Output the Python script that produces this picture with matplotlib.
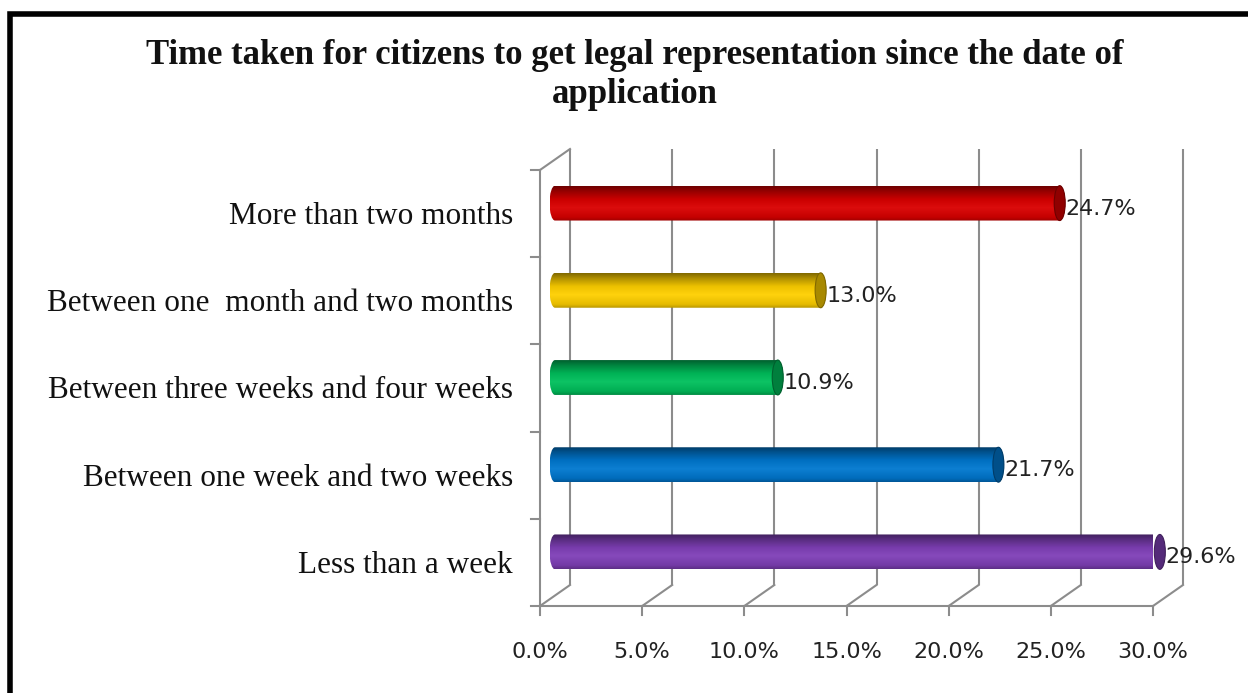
import numpy as np
import matplotlib
matplotlib.use("Agg")
import matplotlib.pyplot as plt
from matplotlib.path import Path
from matplotlib.patches import PathPatch, Ellipse, Rectangle
from matplotlib.transforms import ScaledTranslation
from matplotlib.colors import LinearSegmentedColormap, to_rgb

# ---- data -------------------------------------------------------------
categories = [
    "Less than a week",
    "Between one week and two weeks",
    "Between three weeks and four weeks",
    "Between one  month and two months",
    "More than two months",
]
values = [29.6, 21.7, 10.9, 13.0, 24.7]
bar_colors = ["#8040B8", "#0078D0", "#00C05C", "#FFD000", "#DA0000"]
x_ticks = [0, 5, 10, 15, 20, 25, 30]
x_tick_labels = ["0.0%", "5.0%", "10.0%", "15.0%", "20.0%", "25.0%", "30.0%"]
title = "Time taken for citizens to get legal representation since the date of\napplication"

# ---- figure / axes ------------------------------------------------------
W, H, DPI = 1248, 693, 100
fig = plt.figure(figsize=(W / DPI, H / DPI), dpi=DPI)
fig.patch.set_facecolor("white")

# front plane of the 3-D box: x 540..1153 px, y 170..606 px (from top)
ax = fig.add_axes([540 / W, (H - 606) / H, 613 / W, 436 / H])
ax.set_xlim(0, 30)
ax.set_ylim(-0.5, 4.5)
ax.axis("off")

def shifted(dx_px, dy_px):
    return ax.transData + ScaledTranslation(dx_px / DPI, dy_px / DPI, fig.dpi_scale_trans)

depth_dx, depth_dy = 30, 21
back = shifted(depth_dx, depth_dy)
mid = shifted(depth_dx / 2, depth_dy / 2)
front = ax.transData

grid_col = "#8C8C8C"
glw = 1.5
ymin, ymax = -0.5, 4.5
px_per_unit = 613 / 30

# back wall gridlines
for xt in x_ticks:
    ax.plot([xt, xt], [ymin, ymax], color=grid_col, lw=glw, transform=back,
            clip_on=False, solid_capstyle="butt", zorder=1)

# floor diagonals (front tick -> back gridline)
for xt in x_ticks:
    x0, y0 = front.transform((xt, ymin))
    x1, y1 = back.transform((xt, ymin))
    ax.plot([x0, x1], [y0, y1], color=grid_col, lw=glw, transform=None,
            clip_on=False, zorder=1)

# left wall: front edge + top diagonal
ax.plot([0, 0], [ymin, ymax], color=grid_col, lw=glw, transform=front, clip_on=False, zorder=1)
x0, y0 = front.transform((0, ymax))
x1, y1 = back.transform((0, ymax))
ax.plot([x0, x1], [y0, y1], color=grid_col, lw=glw, transform=None, clip_on=False, zorder=1)

# front x axis line
ax.plot([0, 30], [ymin, ymin], color=grid_col, lw=glw, transform=front, clip_on=False, zorder=1)

# tick marks
tick_len = 9
for xt in x_ticks:
    xd, yd = front.transform((xt, ymin))
    ax.plot([xd, xd], [yd, yd - tick_len], color=grid_col, lw=glw, transform=None,
            clip_on=False, zorder=1)
for yb in np.arange(ymin, ymax + 0.01, 1.0):
    xd, yd = front.transform((0, yb))
    ax.plot([xd - tick_len, xd], [yd, yd], color=grid_col, lw=glw, transform=None,
            clip_on=False, zorder=1)

# tick labels
for xt, lab in zip(x_ticks, x_tick_labels):
    ax.text(xt, ymin, lab, transform=shifted(0, -46), ha="center", va="center",
            fontsize=16, family="DejaVu Sans", color="#222222", clip_on=False)

# category labels
for i, cat in enumerate(categories):
    ax.text(0, i, cat, transform=shifted(-27, -3), ha="right", va="center",
            fontsize=22.5, family="Liberation Serif", color="#111111", clip_on=False)

# ---- cylinders ------------------------------------------------------------
rx = 5.5 / px_per_unit          # half width of end ellipse, data units
hh = 0.20                       # half height of a cylinder, data units

def shade(c, f):
    r, g, b = to_rgb(c)
    return (r * f, g * f, b * f)

def lighten(c, f):
    r, g, b = to_rgb(c)
    return (r + (1 - r) * f, g + (1 - g) * f, b + (1 - b) * f)

k = 0.5523
for i, (v, col) in enumerate(zip(values, bar_colors)):
    c = i
    # outline: rounded left end, convex right end
    verts = [
        (0, c + hh),
        (-rx * k, c + hh), (-rx, c + hh * k), (-rx, c),
        (-rx, c - hh * k), (-rx * k, c - hh), (0, c - hh),
        (v, c - hh),
        (v + rx * k, c - hh), (v + rx, c - hh * k), (v + rx, c),
        (v + rx, c + hh * k), (v + rx * k, c + hh), (v, c + hh),
        (0, c + hh),
    ]
    codes = [Path.MOVETO] + [Path.CURVE4] * 6 + [Path.LINETO] + [Path.CURVE4] * 6 + [Path.CLOSEPOLY]
    body = PathPatch(Path(verts, codes), transform=mid, facecolor="none",
                     edgecolor="none", clip_on=False)
    ax.add_patch(body)

    cmap = LinearSegmentedColormap.from_list(
        f"cyl{i}",
        [(0.0, shade(col, 0.72)), (0.10, shade(col, 0.90)), (0.38, lighten(col, 0.05)),
         (0.62, shade(col, 0.93)), (0.86, shade(col, 0.68)), (1.0, shade(col, 0.50))])
    grad = np.linspace(0, 1, 200).reshape(-1, 1)
    im = ax.imshow(grad, cmap=cmap, aspect="auto", interpolation="bilinear",
                   extent=[-rx, v + rx, c + hh, c - hh], origin="upper",
                   transform=mid, zorder=2)
    im.set_clip_path(body)

    cap = Ellipse((v, c), 2 * rx, 2 * hh, transform=mid,
                  facecolor=shade(col, 0.66), edgecolor=shade(col, 0.50),
                  lw=0.8, zorder=3, clip_on=False)
    ax.add_patch(cap)

    # value label just right of the cylinder end
    ax.text(v + rx, c, f"{v:.1f}%", transform=shifted(depth_dx / 2, 5),
            ha="left", va="center", fontsize=16, family="DejaVu Sans",
            color="#222222", clip_on=False, zorder=4)

ax.set_xlim(0, 30)
ax.set_ylim(-0.5, 4.5)

# ---- title ------------------------------------------------------------------
fig.text(635 / W, 1 - 75 / H, title, ha="center", va="center", fontsize=25,
         family="Liberation Serif", weight="bold", color="#111111",
         linespacing=1.25)

# outer chart frame (runs off the right and bottom edges)
fig.patches.append(Rectangle((9.5 / W, -0.2), 1.2, 1.2 - 13.5 / H,
                             transform=fig.transFigure, fill=False,
                             edgecolor="black", lw=4.0))

fig.savefig("out.png", dpi=DPI, facecolor="white")
